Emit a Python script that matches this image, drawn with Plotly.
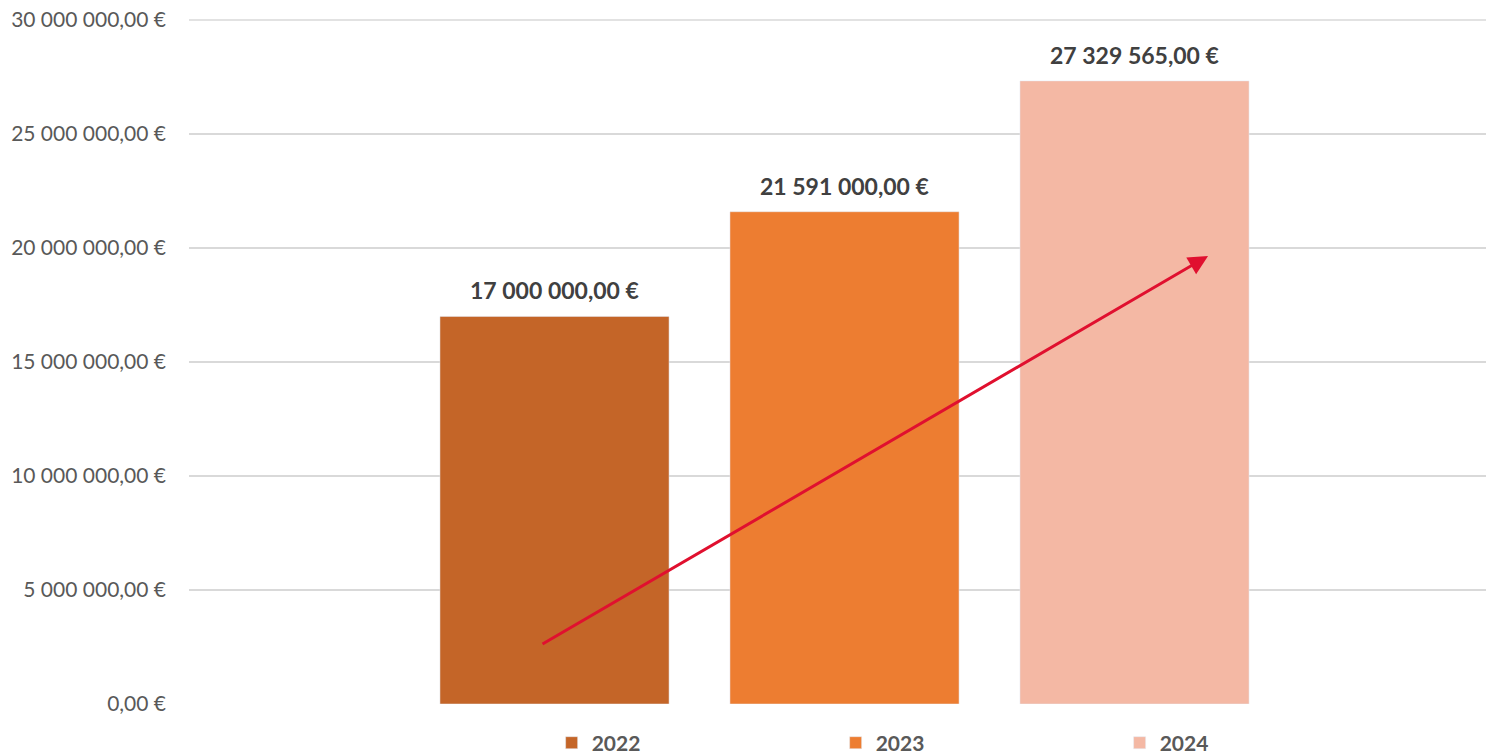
import plotly.graph_objects as go

years = ["2022", "2023", "2024"]
values = [17000000.00, 21591000.00, 27329565.00]
colors = ["#C46528", "#ED7D31", "#F4B8A4"]
category = [""]

BARGAP = 0.3364
BARGROUPGAP = 0.21
GRID = "#D9D9D9"

fig = go.Figure()
for yr, v, c in zip(years, values, colors):
    fig.add_trace(go.Bar(x=category, y=[v], name=yr, marker_color=c))

# value labels above each bar (centred on each bar of the group)
slot = (1 - BARGAP) / len(years)
for i, v in enumerate(values):
    fig.add_annotation(
        x=(i - (len(years) - 1) / 2) * slot, y=v, xref="x", yref="y",
        text=f"{v:,.2f} €".replace(",", " ").replace(".", ","),
        showarrow=False, yanchor="bottom", yshift=10,
        font=dict(family="Lato", size=23, color="#404040", weight="bold"),
    )

fig.add_annotation(
    x=0.2773, y=19650000, ax=-0.2315, ay=2590000,
    xref="x", yref="y", axref="x", ayref="y",
    showarrow=True, arrowhead=2, arrowsize=1.3, arrowwidth=3,
    arrowcolor="#E0102F", text="",
)

# top gridline (plotly hides the gridline at the range edge)
fig.add_shape(type="line", xref="paper", yref="paper", x0=0, x1=1, y0=1, y1=1,
              line=dict(color=GRID, width=1.5), layer="below")

fig.update_layout(
    width=1486, height=755,
    barmode="group", bargap=BARGAP, bargroupgap=BARGROUPGAP,
    separators=", ",
    plot_bgcolor="white", paper_bgcolor="white",
    margin=dict(l=189, r=0, t=20, b=51, autoexpand=False),
    font=dict(family="Lato", color="#595959"),
    xaxis=dict(range=[-0.5, 0.4893], showticklabels=False, showgrid=False,
               zeroline=False, showline=False),
    yaxis=dict(range=[0, 30000000], tick0=0, dtick=5000000,
               tickformat=",.2f", ticksuffix=" €",
               gridcolor=GRID, gridwidth=1.5,
               zeroline=False, showline=False, ticks="", automargin=False,
               tickfont=dict(size=21, color="#595959"), ticklabelstandoff=22),
    legend=dict(orientation="h", xref="container", yref="container",
                x=0.6579, xanchor="center", y=0.043, yanchor="top",
                font=dict(family="Lato", size=21, color="#595959", weight="bold"),
                entrywidth=239, entrywidthmode="pixels", traceorder="normal"),
    showlegend=True,
)

fig.write_html("out.html", config={"displayModeBar": False},
               post_script="document.body.style.margin='0';document.body.style.overflow='hidden';")
